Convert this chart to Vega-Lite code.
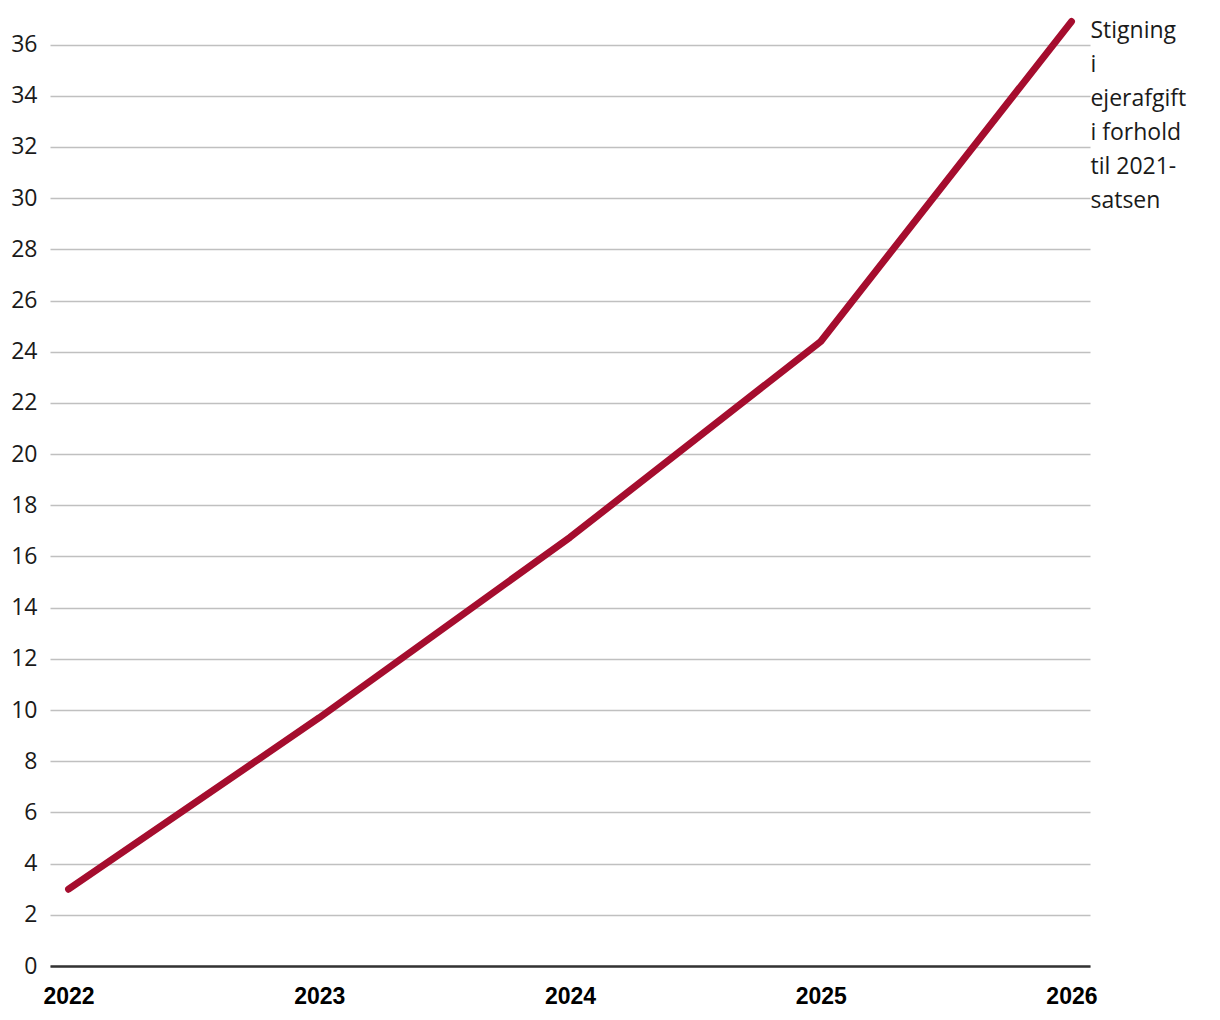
{
  "$schema": "https://vega.github.io/schema/vega-lite/v6.json",
  "width": 1040,
  "height": 947,
  "autosize": {"type": "none"},
  "padding": {"left": 50, "top": 19, "right": 130, "bottom": 54},
  "background": "white",
  "config": {
    "view": {"stroke": null},
    "font": "Open Sans"
  },
  "datasets": {
    "series": [
      {"year": "2022", "value": 3.0},
      {"year": "2023", "value": 9.7},
      {"year": "2024", "value": 16.75},
      {"year": "2025", "value": 24.4},
      {"year": "2026", "value": 36.9}
    ],
    "label": [
      {"year": "2026", "value": 36.9, "label": "Stigning\ni\nejerafgift\ni forhold\ntil 2021-\nsatsen"}
    ]
  },
  "layer": [
    {
      "data": {"name": "series"},
      "mark": {"type": "line", "color": "#a50d2e", "strokeWidth": 7, "strokeCap": "round", "strokeJoin": "round"},
      "encoding": {
        "x": {
          "field": "year",
          "type": "ordinal",
          "scale": {"type": "point", "padding": 0.074},
          "axis": {
            "title": null,
            "labelAngle": 0,
            "labelFont": "Liberation Sans",
            "labelFontWeight": "bold",
            "labelFontSize": 23,
            "labelColor": "#000000",
            "labelPadding": 19,
            "ticks": false,
            "domain": true,
            "domainColor": "#333333",
            "domainWidth": 2.5,
            "grid": false
          }
        },
        "y": {
          "field": "value",
          "type": "quantitative",
          "scale": {"domain": [0, 37], "nice": false},
          "axis": {
            "title": null,
            "values": [0, 2, 4, 6, 8, 10, 12, 14, 16, 18, 20, 22, 24, 26, 28, 30, 32, 34, 36],
            "labelFont": "Open Sans",
            "labelFontSize": 23,
            "labelColor": "#1a1a1a",
            "labelPadding": 13,
            "ticks": false,
            "domain": false,
            "grid": true,
            "gridColor": "#c0c0c0",
            "gridWidth": 1.5
          }
        }
      }
    },
    {
      "data": {"name": "label"},
      "mark": {"type": "text", "align": "left", "baseline": "alphabetic", "dx": 19, "dy": 16, "fontSize": 23, "lineHeight": 34, "lineBreak": "\n", "font": "Open Sans", "color": "#1a1a1a"},
      "encoding": {
        "x": {"field": "year", "type": "ordinal"},
        "y": {"field": "value", "type": "quantitative"},
        "text": {"field": "label"}
      }
    }
  ]
}
